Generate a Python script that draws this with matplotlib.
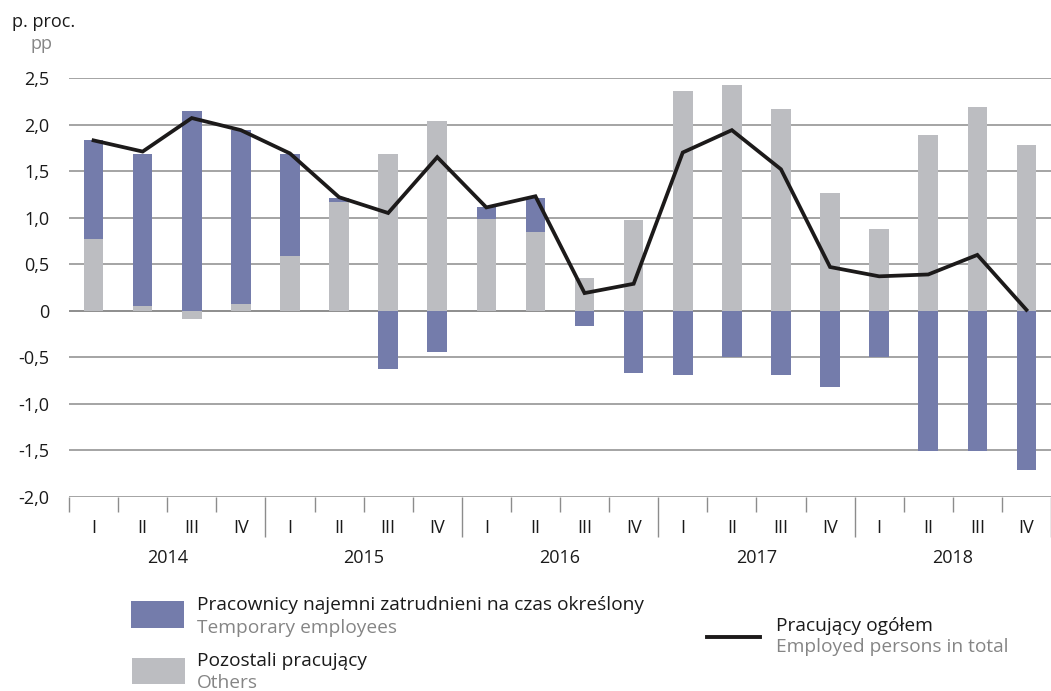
import matplotlib
matplotlib.use("Agg")
import matplotlib.pyplot as plt
from matplotlib.patches import Rectangle
from matplotlib.lines import Line2D
import matplotlib.transforms as mtransforms

# --------------------------------------------------------------
# Dane: kontrybucje do dynamiki liczby pracujących (p. proc.)
# --------------------------------------------------------------
lata = ["2014", "2015", "2016", "2017", "2018"]
kwartaly = ["I", "II", "III", "IV"]

# pracownicy najemni zatrudnieni na czas określony
czas_okreslony = [1.06, 1.63, 2.15, 1.87,
                  1.09, 0.04, -0.63, -0.44,
                  0.12, 0.36, -0.16, -0.67,
                  -0.69, -0.50, -0.69, -0.82,
                  -0.50, -1.51, -1.51, -1.71]
# pozostali pracujący
pozostali = [0.77, 0.05, -0.09, 0.075,
             0.59, 1.17, 1.68, 2.04,
             0.99, 0.85, 0.35, 0.98,
             2.36, 2.42, 2.17, 1.27,
             0.88, 1.89, 2.19, 1.78]
# pracujący ogółem
ogolem = [1.83, 1.71, 2.07, 1.94,
          1.69, 1.22, 1.05, 1.65,
          1.11, 1.23, 0.19, 0.29,
          1.70, 1.94, 1.52, 0.47,
          0.37, 0.39, 0.60, 0.01]

y_ticks = [-2.0, -1.5, -1.0, -0.5, 0.0, 0.5, 1.0, 1.5, 2.0, 2.5]

NIEBIESKI = "#747cab"
SZARY = "#bcbdc1"
LINIA = "#1c1a1a"
SIATKA = "#8c8c8c"
SZARY_TXT = "#858585"

plt.rcParams["font.family"] = ["Open Sans", "DejaVu Sans"]

W, H = 1051, 691
fig = plt.figure(figsize=(W / 100, H / 100), dpi=100)


def fx(px):
    return px / W


def fy(py):
    return 1 - py / H


# obszar wykresu w pikselach
x0, x1 = 69, 1051
ytop, ybot = 78, 497
ax = fig.add_axes([fx(x0), fy(ybot), fx(x1 - x0), (ybot - ytop) / H])

n = len(czas_okreslony)
x = list(range(n))
szer_kw = 49.6
ax.set_xlim(-0.5, -0.5 + (x1 - x0) / szer_kw)
ax.set_ylim(-2.0, 2.5)

# siatka pozioma
for v in y_ticks:
    ax.axhline(v, color="#6f6f6f" if v == 0 else SIATKA, lw=1.1, zorder=1)

# słupki: szary od zera, niebieski doklejony z właściwej strony
dol_nieb = []
for t, p in zip(czas_okreslony, pozostali):
    if t >= 0:
        dol_nieb.append(max(p, 0))
    else:
        dol_nieb.append(min(p, 0))

bw = 0.4
ax.bar(x, pozostali, width=bw, color=SZARY, zorder=2, linewidth=0)
ax.bar(x, czas_okreslony, bottom=dol_nieb, width=bw, color=NIEBIESKI,
       zorder=2, linewidth=0)

ax.plot(x, ogolem, color=LINIA, lw=2.7, zorder=3, solid_joinstyle="miter")

# oś Y
ax.set_yticks(y_ticks)
ax.set_yticklabels([("%.1f" % v).replace(".", ",") if v != 0 else "0"
                    for v in y_ticks])
ax.tick_params(axis="y", length=0, pad=14, labelsize=13, labelcolor="#1a1a1a")
for s in ax.spines.values():
    s.set_visible(False)

# oś X: krótkie kreski między kwartałami, długie między latami
granice = [i - 0.5 for i in range(n + 1)]
ax.set_xticks([g for i, g in enumerate(granice) if i % 4 == 0 and i > 0])
ax.set_xticks([g for i, g in enumerate(granice) if i % 4 != 0 or i == 0],
              minor=True)
ax.tick_params(axis="x", which="major", length=29, width=1, color=SIATKA,
               labelbottom=False)
ax.tick_params(axis="x", which="minor", length=10.8, width=1, color=SIATKA,
               labelbottom=False)

tr = mtransforms.blended_transform_factory(ax.transData, ax.transAxes)
h_ax = ybot - ytop
for i in x:
    ax.text(i, -(528 - ybot) / h_ax, kwartaly[i % 4], transform=tr,
            ha="center", va="center", fontsize=13, color="#1a1a1a")
for j, rok in enumerate(lata):
    ax.text(j * 4 + 1.5, -(558 - ybot) / h_ax, rok, transform=tr,
            ha="center", va="center", fontsize=13, color="#1a1a1a")

# jednostka
fig.text(fx(12), fy(22), "p. proc.", ha="left", va="center", fontsize=13,
         color="#1a1a1a")
fig.text(fx(30), fy(44), "pp", ha="left", va="center", fontsize=13,
         color=SZARY_TXT)

# legenda
fs_leg = 13.8
fig.add_artist(Rectangle((fx(131), fy(628)), fx(53), 27 / H,
                         transform=fig.transFigure, color=NIEBIESKI, lw=0))
fig.add_artist(Rectangle((fx(132), fy(684)), fx(53), 26 / H,
                         transform=fig.transFigure, color=SZARY, lw=0))
fig.text(fx(197), fy(605), "Pracownicy najemni zatrudnieni na czas określony",
         ha="left", va="center", fontsize=fs_leg, color="#1a1a1a")
fig.text(fx(197), fy(628), "Temporary employees",
         ha="left", va="center", fontsize=fs_leg, color=SZARY_TXT)
fig.text(fx(197), fy(661), "Pozostali pracujący",
         ha="left", va="center", fontsize=fs_leg, color="#1a1a1a")
fig.text(fx(197), fy(683), "Others",
         ha="left", va="center", fontsize=fs_leg, color=SZARY_TXT)

fig.add_artist(Line2D([fx(707), fx(760)], [fy(637), fy(637)],
                      transform=fig.transFigure, color=LINIA, lw=2.8))
fig.text(fx(776), fy(626), "Pracujący ogółem",
         ha="left", va="center", fontsize=fs_leg, color="#1a1a1a")
fig.text(fx(776), fy(647), "Employed persons in total",
         ha="left", va="center", fontsize=fs_leg, color=SZARY_TXT)

fig.savefig("out.png", dpi=100)
